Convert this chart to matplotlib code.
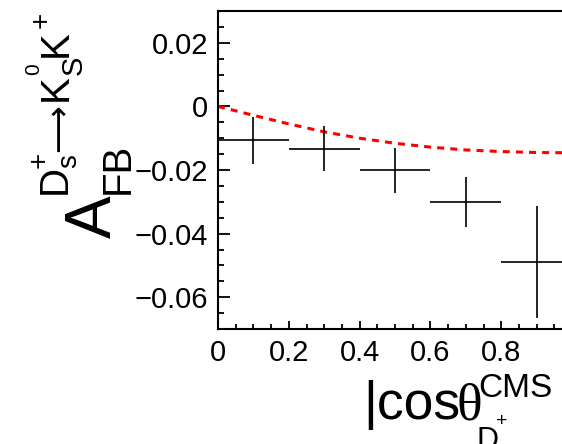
import matplotlib
matplotlib.use("Agg")
import matplotlib.pyplot as plt
from matplotlib.ticker import MultipleLocator

# binned forward-backward asymmetry (bin centres, half widths, values, errors)
bin_centers = [0.1, 0.3, 0.5, 0.7, 0.9]
bin_half_width = [0.1, 0.1, 0.1, 0.1, 0.1]
afb_values = [-0.0107, -0.0133, -0.0201, -0.0301, -0.0488]
afb_errors = [0.0073, 0.0071, 0.0071, 0.0079, 0.0176]

# expectation curve (red dashed)
curve_x = [0.0, 0.1, 0.2, 0.3, 0.4, 0.5, 0.6, 0.7, 0.8, 0.9, 1.0]
curve_y = [0.0, -0.0028, -0.0055, -0.0080, -0.0100, -0.0116, -0.0128, -0.0137, -0.0142, -0.0145, -0.0146]

xtick_vals = [0, 0.2, 0.4, 0.6, 0.8]
xtick_labels = ['0', '0.2', '0.4', '0.6', '0.8']
ytick_vals = [-0.06, -0.04, -0.02, 0, 0.02]
ytick_labels = ['\u22120.06', '\u22120.04', '\u22120.02', '0', '0.02']

plt.rcParams['font.family'] = ['Liberation Sans', 'DejaVu Sans']

W, H = 562, 444
fig = plt.figure(figsize=(W / 100, H / 100), dpi=100)
renderer = fig.canvas.get_renderer()

# axes run from x=0 to 1; the right end falls outside the picture
ax = fig.add_axes([218 / W, 1 - 329 / H, (572 - 218) / W, (329 - 11) / H])

ax.plot(curve_x, curve_y, color='#ff0000', linewidth=2.2, linestyle=(0, (2.3, 2.0)))
ax.errorbar(bin_centers, afb_values, xerr=bin_half_width, yerr=afb_errors,
            fmt='none', ecolor='black', elinewidth=1.2, capsize=0)

ax.set_xlim(0, 1)
ax.set_ylim(-0.07, 0.03)
ax.xaxis.set_minor_locator(MultipleLocator(0.05))
ax.yaxis.set_minor_locator(MultipleLocator(0.005))
ax.set_xticks(xtick_vals)
ax.set_xticklabels(xtick_labels)
ax.set_yticks(ytick_vals)
ax.set_yticklabels(ytick_labels)

ax.tick_params(axis='both', which='both', direction='in', top=False, right=False,
               labelsize=21, width=1.3)
ax.tick_params(axis='y', which='major', length=8.6, pad=7)
ax.tick_params(axis='y', which='minor', length=4.3)
ax.tick_params(axis='x', which='major', length=5.5, pad=7)
ax.tick_params(axis='x', which='minor', length=3.5)
for s in ax.spines.values():
    s.set_linewidth(1.5)


def ytxt(s, base_x, start_y, size, **kw):
    # rotated piece of the y title, positions in pixels from the top-left
    fig.text(base_x / W, 1 - start_y / H, s, rotation=90, rotation_mode='anchor',
             ha='left', va='baseline', fontsize=size, **kw)


def xtxt(s, left_x, base_y, size, **kw):
    # piece of the x title; returns its right edge (pixels)
    t = fig.text(left_x / W, 1 - base_y / H, s, ha='left', va='baseline', fontsize=size, **kw)
    return t.get_window_extent(renderer).x1


# y axis title: A_FB^{D_s^+ -> K_S^0 K^+}
ytxt('A', 111, 238, 46)
ytxt('FB', 129, 194, 29)
ytxt('D', 66, 194, 29)
ytxt('+', 47, 168, 20)
ytxt('s', 76, 168, 20)
ytxt('\u27f6', 68, 152, 24, family=['DejaVu Sans'])
ytxt('K', 67, 101, 29)
ytxt('S', 82, 75, 21)
ytxt('0', 39, 75, 15)
ytxt('K', 67, 57, 29)
ytxt('+', 49, 28, 20)

# x axis title: |cos theta^CMS_{D_s^+}
r = xtxt('|cos', 363, 419, 38.5)
r = xtxt('\u03b8', r - 4, 419, 38.5, family='Liberation Serif')
xtxt('CMS', r - 3, 397, 24)
rd = xtxt('D', r - 5, 449, 22)
xtxt('+', rd - 3, 426, 14)
xtxt('s', rd - 2, 457, 14)

fig.savefig('out.png', dpi=100)
